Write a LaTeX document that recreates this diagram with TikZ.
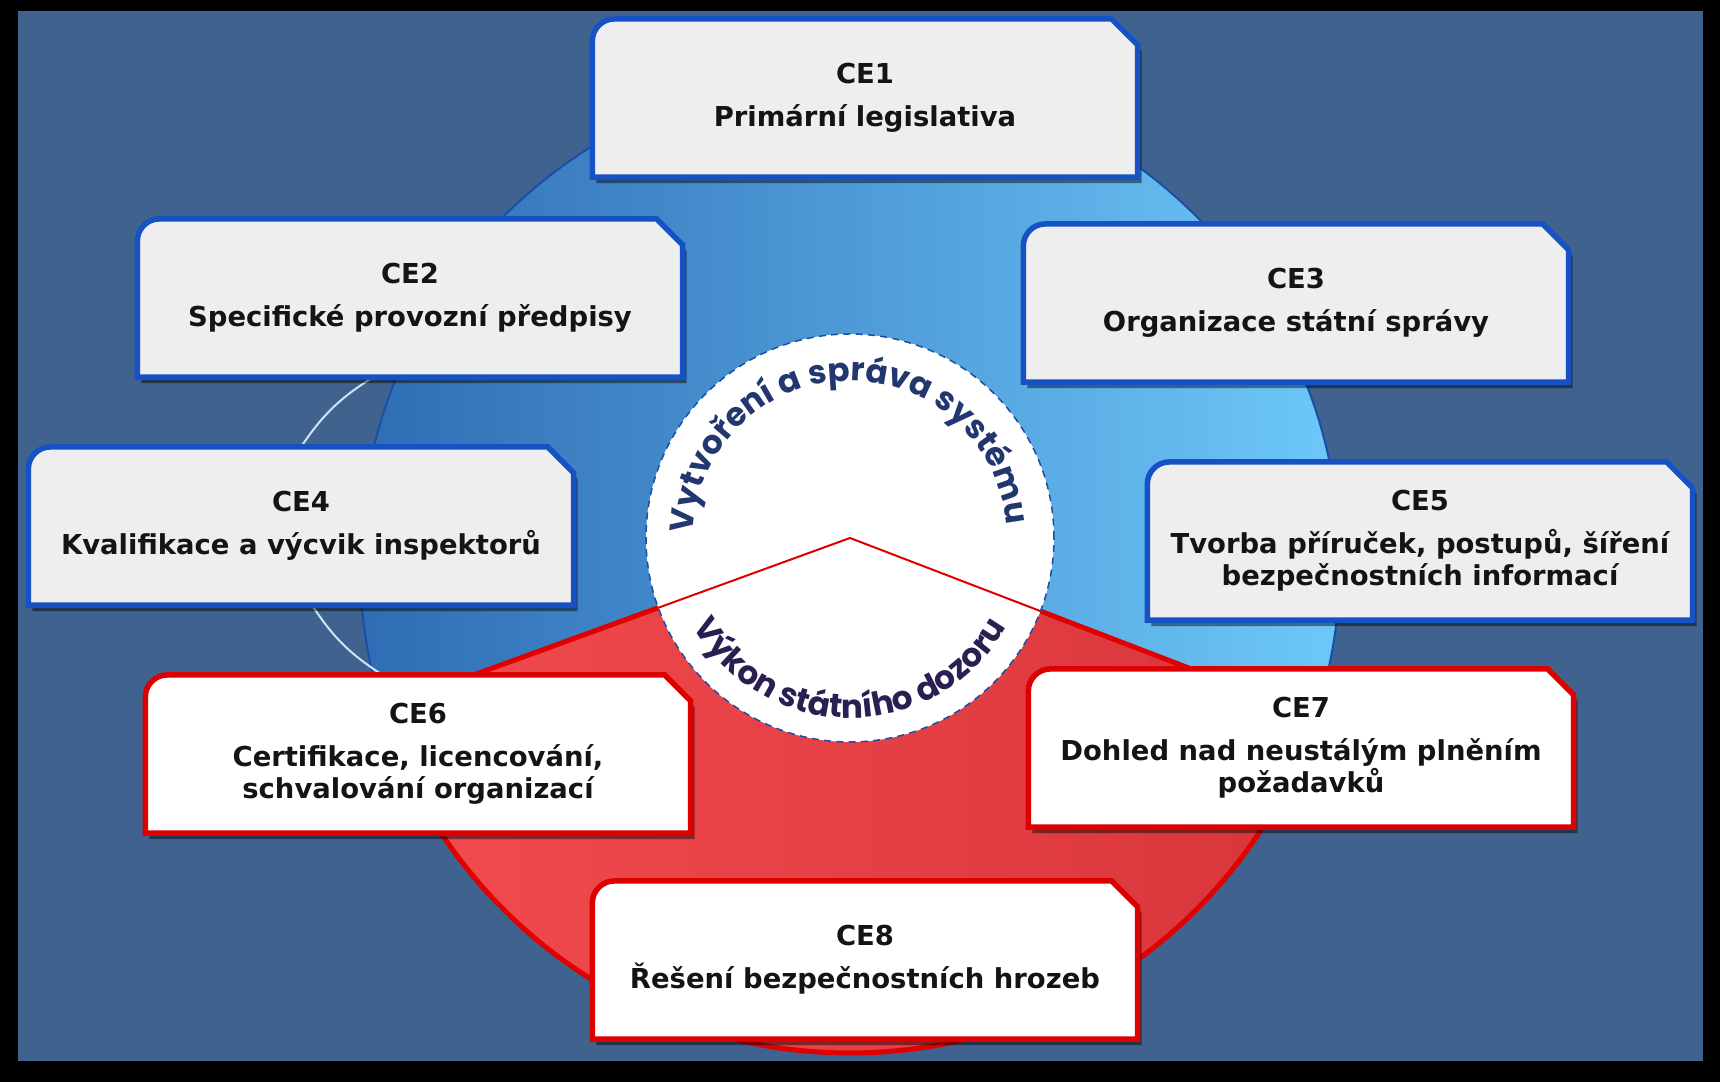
\documentclass[tikz,border=0pt]{standalone}
\usepackage{fontspec}
\setmainfont{DejaVu Sans}
\newfontfamily\arcfont{Poppins}
\usetikzlibrary{calc, shadows, decorations.text}

\definecolor{slate}{HTML}{3F628F}
\definecolor{ringdark}{HTML}{2F6CB4}
\definecolor{ringlight}{HTML}{6DC8F9}
\definecolor{ringedge}{HTML}{1A4FA8}
\definecolor{redlight}{HTML}{F34B50}
\definecolor{reddark}{HTML}{D7353A}
\definecolor{redline}{HTML}{E00000}
\definecolor{boxblue}{HTML}{1652C4}
\definecolor{boxgray}{HTML}{EEEEEE}
\definecolor{boxred}{HTML}{DD0000}
\definecolor{linkcol}{HTML}{D2E4F4}
\definecolor{uptext}{HTML}{22366F}
\definecolor{lowtext}{HTML}{2B1F52}

\pgfdeclarelayer{back}
\pgfdeclarelayer{boxes}
\pgfsetlayers{back,boxes,main}

\begin{document}
\begin{tikzpicture}[x=0.01cm, y=0.01cm,
  cebox/.style={minimum width=5.45cm, minimum height=1.58cm, inner sep=0pt, outer sep=0pt,
    align=center, text=black!92, font=\fontsize{7.8}{9.1}\selectfont\bfseries},
  bluebox/.style={draw=boxblue, fill=boxgray, line width=0.055cm,
    drop shadow={shadow xshift=0.04cm, shadow yshift=-0.06cm, opacity=0.45, fill=black}},
  redbox/.style={draw=boxred, fill=white, line width=0.055cm,
    drop shadow={shadow xshift=0.04cm, shadow yshift=-0.06cm, opacity=0.45, fill=black}},
  link/.style={draw=linkcol, line width=0.02cm}]
  \useasboundingbox (0,0) rectangle (1720,1082);
  \coordinate (mid) at (850,519);
  \coordinate (hub) at (850,544);

  % the eight elements
  \node[cebox] (ce1) at (865,984) {CE1\\[3.1pt]Primární legislativa};
  \node[cebox] (ce2) at (410,784) {CE2\\[3.1pt]Specifické provozní předpisy};
  \node[cebox] (ce3) at (1296,779) {CE3\\[3.1pt]Organizace státní správy};
  \node[cebox] (ce4) at (301,556) {CE4\\[3.1pt]Kvalifikace a výcvik inspektorů};
  \node[cebox] (ce5) at (1420,541) {CE5\\[3.1pt]Tvorba příruček, postupů, šíření\\bezpečnostních informací};
  \node[cebox] (ce6) at (418,328) {CE6\\[3.1pt]Certifikace, licencování,\\schvalování organizací};
  \node[cebox] (ce7) at (1301,334) {CE7\\[3.1pt]Dohled nad neustálým plněním\\požadavků};
  \node[cebox] (ce8) at (865,122) {CE8\\[3.1pt]Řešení bezpečnostních hrozeb};

  \begin{pgfonlayer}{back}
    % frame
    \fill[black] (0,0) rectangle (1720,1082);
    \fill[slate] (18,21) rectangle (1703,1071);
    % outer ring
    \shadedraw[left color=ringdark, right color=ringlight, draw=ringedge, line width=0.02cm] (mid) circle (490);
    % red part under the chevron
    \begin{scope}
      \clip (hub) -- ($(hub)+(200:1000)$) -- (-100,-100) -- (1820,-100) -- ($(hub)+(339:1000)$) -- cycle;
      \shadedraw[left color=redlight, right color=reddark, draw=redline, line width=0.05cm] (mid) circle (490);
    \end{scope}
    \begin{scope}
      \clip (mid) circle (490);
      \draw[redline, line width=0.05cm] ($(hub)+(200:1000)$) -- (hub) -- ($(hub)+(339:1000)$);
    \end{scope}
    % white hub
    \fill[white] (hub) circle (204);
    \begin{scope}
      \clip (hub) circle (204);
      \draw[redline, line width=0.02cm] ($(hub)+(200:300)$) -- (hub) -- ($(hub)+(339:300)$);
    \end{scope}
    \draw[ringedge, line width=0.015cm, dash pattern=on 2pt off 1.5pt] (hub) circle (204);
    % curved captions
    \path[decorate, decoration={text along path, text align=center,
      text={|\arcfont\bfseries\fontsize{9.3}{11}\selectfont\color{uptext}|Vytvoření a správa systému}}]
      ($(hub)+(188:157)$) arc[start angle=188, end angle=-5, radius=157];
    \path[decorate, decoration={text along path, text align=center,
      text={|\arcfont\bfseries\fontsize{9.3}{11}\selectfont\color{lowtext}|Výkon státního dozoru}}]
      ($(hub)+(198:180)$) arc[start angle=198, end angle=342, radius=180];
    % links
    \draw[link] ($(ce2.south west)!0.433!(ce2.south east)$) to[bend right=12] (ce4.north);
    \draw[link] ($(ce4.south west)!0.52!(ce4.south east)$) to[bend right=12] ($(ce6.north west)!0.435!(ce6.north east)$);
  \end{pgfonlayer}

  \begin{pgfonlayer}{boxes}
    \foreach \n/\look in {ce1/bluebox, ce2/bluebox, ce3/bluebox, ce4/bluebox, ce5/bluebox, ce6/redbox, ce7/redbox, ce8/redbox}
      \draw[\look] (\n.south west) -- ([yshift=-0.22cm]\n.north west)
        arc[start angle=180, end angle=90, radius=0.22cm]
        -- ([xshift=-0.26cm]\n.north east) -- ([yshift=-0.26cm]\n.north east)
        -- (\n.south east) -- cycle;
  \end{pgfonlayer}
\end{tikzpicture}
\end{document}
